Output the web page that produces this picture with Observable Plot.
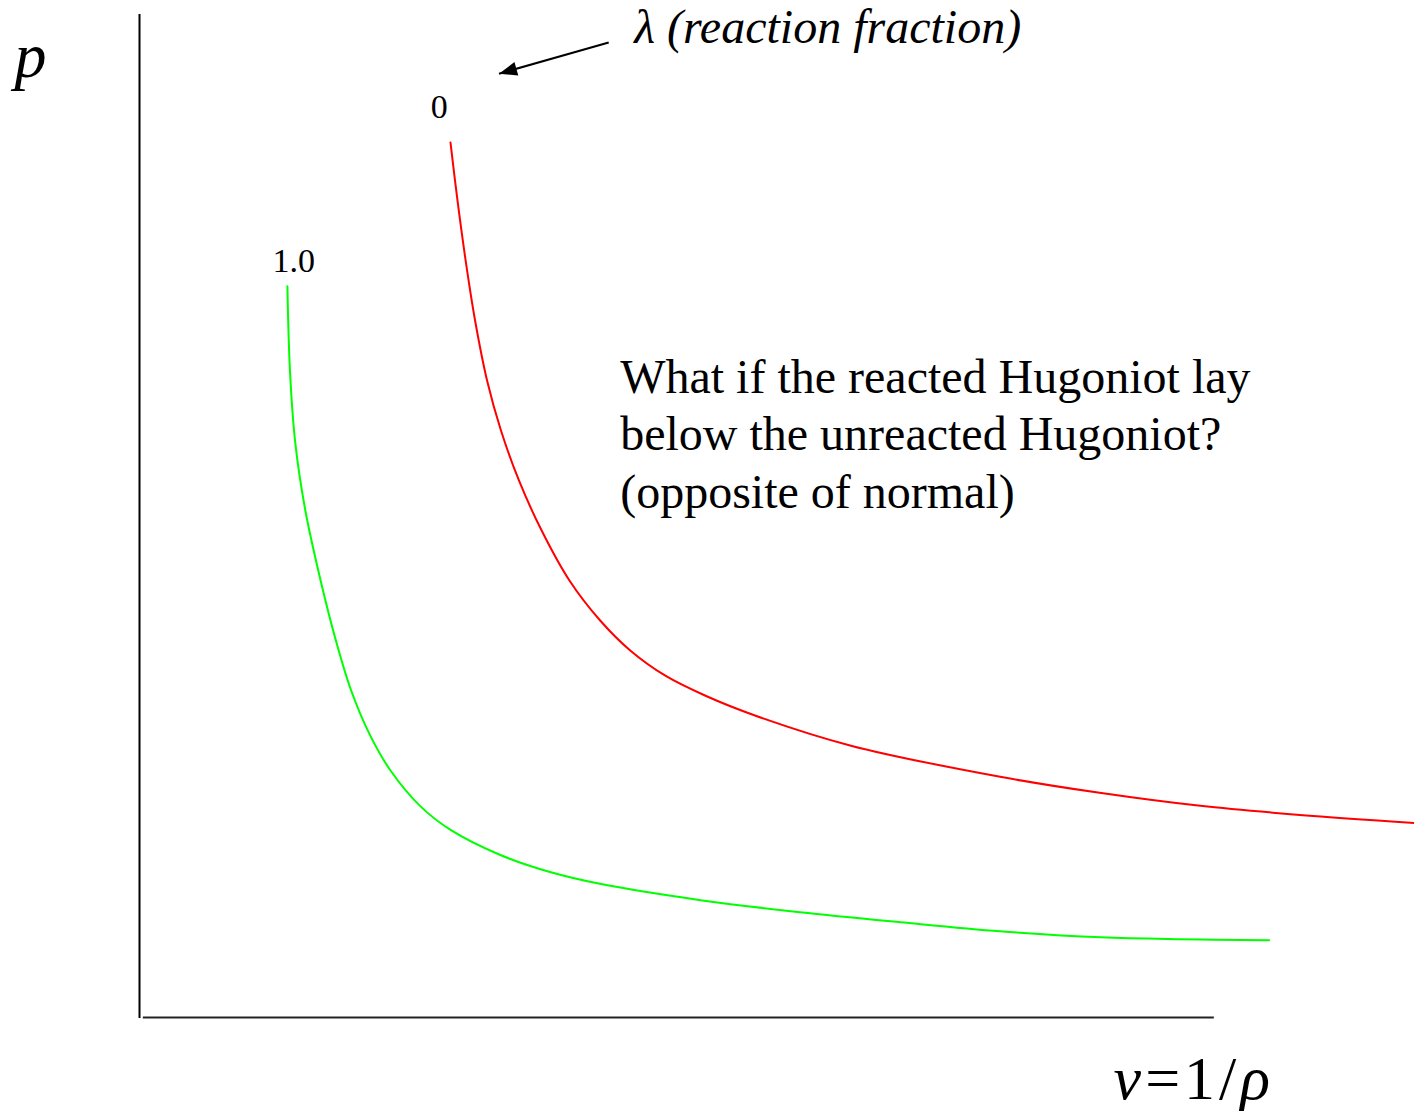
<!DOCTYPE html>
<html>
<head>
<meta charset="utf-8">
<script src="https://cdn.jsdelivr.net/npm/d3@7"></script>
<script src="https://cdn.jsdelivr.net/npm/@observablehq/plot@0.6"></script>
<style>
  html, body { margin: 0; padding: 0; background: #fff; }
  #chart svg { display: block; }
</style>
</head>
<body>
<div id="chart"></div>
<script>
// Unreacted Hugoniot (λ = 0), specific volume v vs pressure p, arbitrary units
const unreactedV = [2.439, 2.494, 2.558, 2.632, 2.726, 2.835, 2.976, 3.154, 3.372, 3.613, 3.849, 4.121, 4.435, 4.827, 5.58, 6.75, 7.53, 8.32, 9.10, 10.0];
const unreactedP = [8.724, 8.146, 7.547, 6.949, 6.351, 5.852, 5.354, 4.855, 4.357, 3.958, 3.659, 3.410, 3.210, 3.011, 2.71, 2.40, 2.24, 2.11, 2.02, 1.94];

// Reacted Hugoniot (λ = 1.0)
const reactedV = [1.16, 1.18, 1.22, 1.30, 1.42, 1.54, 1.66, 1.81, 1.97, 2.20, 2.44, 2.83, 3.22, 3.62, 4.40, 5.18, 5.97, 6.75, 7.54, 8.86];
const reactedP = [7.29, 6.45, 5.75, 5.06, 4.36, 3.76, 3.26, 2.81, 2.46, 2.11, 1.87, 1.62, 1.45, 1.33, 1.17, 1.05, 0.95, 0.86, 0.80, 0.77];

// Curve end labels (reaction fraction)
const curveLabels = ["0", "1.0"];
const curveLabelV = [2.35, 1.21];
const curveLabelP = [8.97, 7.43];

const question = "What if the reacted Hugoniot lay\nbelow the unreacted Hugoniot?\n(opposite of normal)";
const lambdaTitle = "λ (reaction fraction)";

const unreacted = unreactedV.map((v, i) => ({v, p: unreactedP[i]}));
const reacted = reactedV.map((v, i) => ({v, p: reactedP[i]}));
const labels = curveLabels.map((text, i) => ({text, v: curveLabelV[i], p: curveLabelP[i]}));

const serif = "'Liberation Serif', 'Times New Roman', serif";

const svg = Plot.plot({
  width: 1414,
  height: 1111,
  margin: 0,
  style: {background: "#fff", fontFamily: serif},
  x: {domain: [0, 10], range: [139, 1414], axis: null},
  y: {domain: [0, 10], range: [1017, 14], axis: null},
  marks: [
    // axes
    Plot.ruleX([0], {y1: -0.01, y2: 10, stroke: "#000", strokeWidth: 2}),
    Plot.ruleY([0], {x1: 0.03, x2: 8.43, stroke: "#222", strokeWidth: 2}),
    // Hugoniot curves
    Plot.line(unreacted, {x: "v", y: "p", stroke: "#ff0000", strokeWidth: 2, curve: "catmull-rom"}),
    Plot.line(reacted, {x: "v", y: "p", stroke: "#00ff00", strokeWidth: 2, curve: "catmull-rom"}),
    // curve labels
    Plot.text(labels, {x: "v", y: "p", text: "text", fontSize: 34, textAnchor: "middle", lineAnchor: "bottom", fill: "#000"}),
    // pointer to the λ label
    Plot.link([{x1: 3.68, y1: 9.72, x2: 2.82, y2: 9.41}], {x1: "x1", y1: "y1", x2: "x2", y2: "y2", stroke: "#000", strokeWidth: 2}),
    Plot.text([lambdaTitle], {x: 3.88, y: 9.72, text: d => d, fontSize: 48, fontStyle: "italic", textAnchor: "start", lineAnchor: "bottom", fill: "#000"}),
    // annotation
    Plot.text([question], {x: 3.77, y: 5.08, text: d => d, fontSize: 48, textAnchor: "start", lineAnchor: "bottom", lineHeight: 1.2, fill: "#000"}),
    // axis labels
    Plot.text(["p"], {x: -0.98, y: 9.38, text: d => d, fontSize: 64, fontStyle: "italic", textAnchor: "start", lineAnchor: "bottom", fill: "#000"}),
    Plot.text(["v=1/ρ"], {x: 7.64, y: -0.81, text: d => d, fontSize: 62, textAnchor: "start", lineAnchor: "bottom", fill: "#000", className: "vlabel"})
  ]
});

// filled arrowhead for the pointer
const sel = d3.select(svg);
const defs = sel.insert("defs", ":first-child");
defs.append("marker")
  .attr("id", "arrowhead")
  .attr("markerUnits", "userSpaceOnUse")
  .attr("viewBox", "-20 -8 22 16")
  .attr("markerWidth", 22)
  .attr("markerHeight", 16)
  .attr("refX", 0)
  .attr("refY", 0)
  .attr("orient", "auto")
  .append("path")
  .attr("d", "M0,0L-18,-7L-18,7Z")
  .attr("fill", "#000");
sel.selectAll("g[aria-label='link'] path").attr("marker-end", "url(#arrowhead)");

// italic v and ρ in the volume label, with a little spacing around the symbols
sel.selectAll(".vlabel text").each(function() {
  const t = d3.select(this).attr("letter-spacing", 4);
  t.text(null);
  t.append("tspan").attr("font-style", "italic").text("v");
  t.append("tspan").text("=1/");
  t.append("tspan").attr("font-style", "italic").text("ρ");
});

document.getElementById("chart").appendChild(svg);
</script>
</body>
</html>
